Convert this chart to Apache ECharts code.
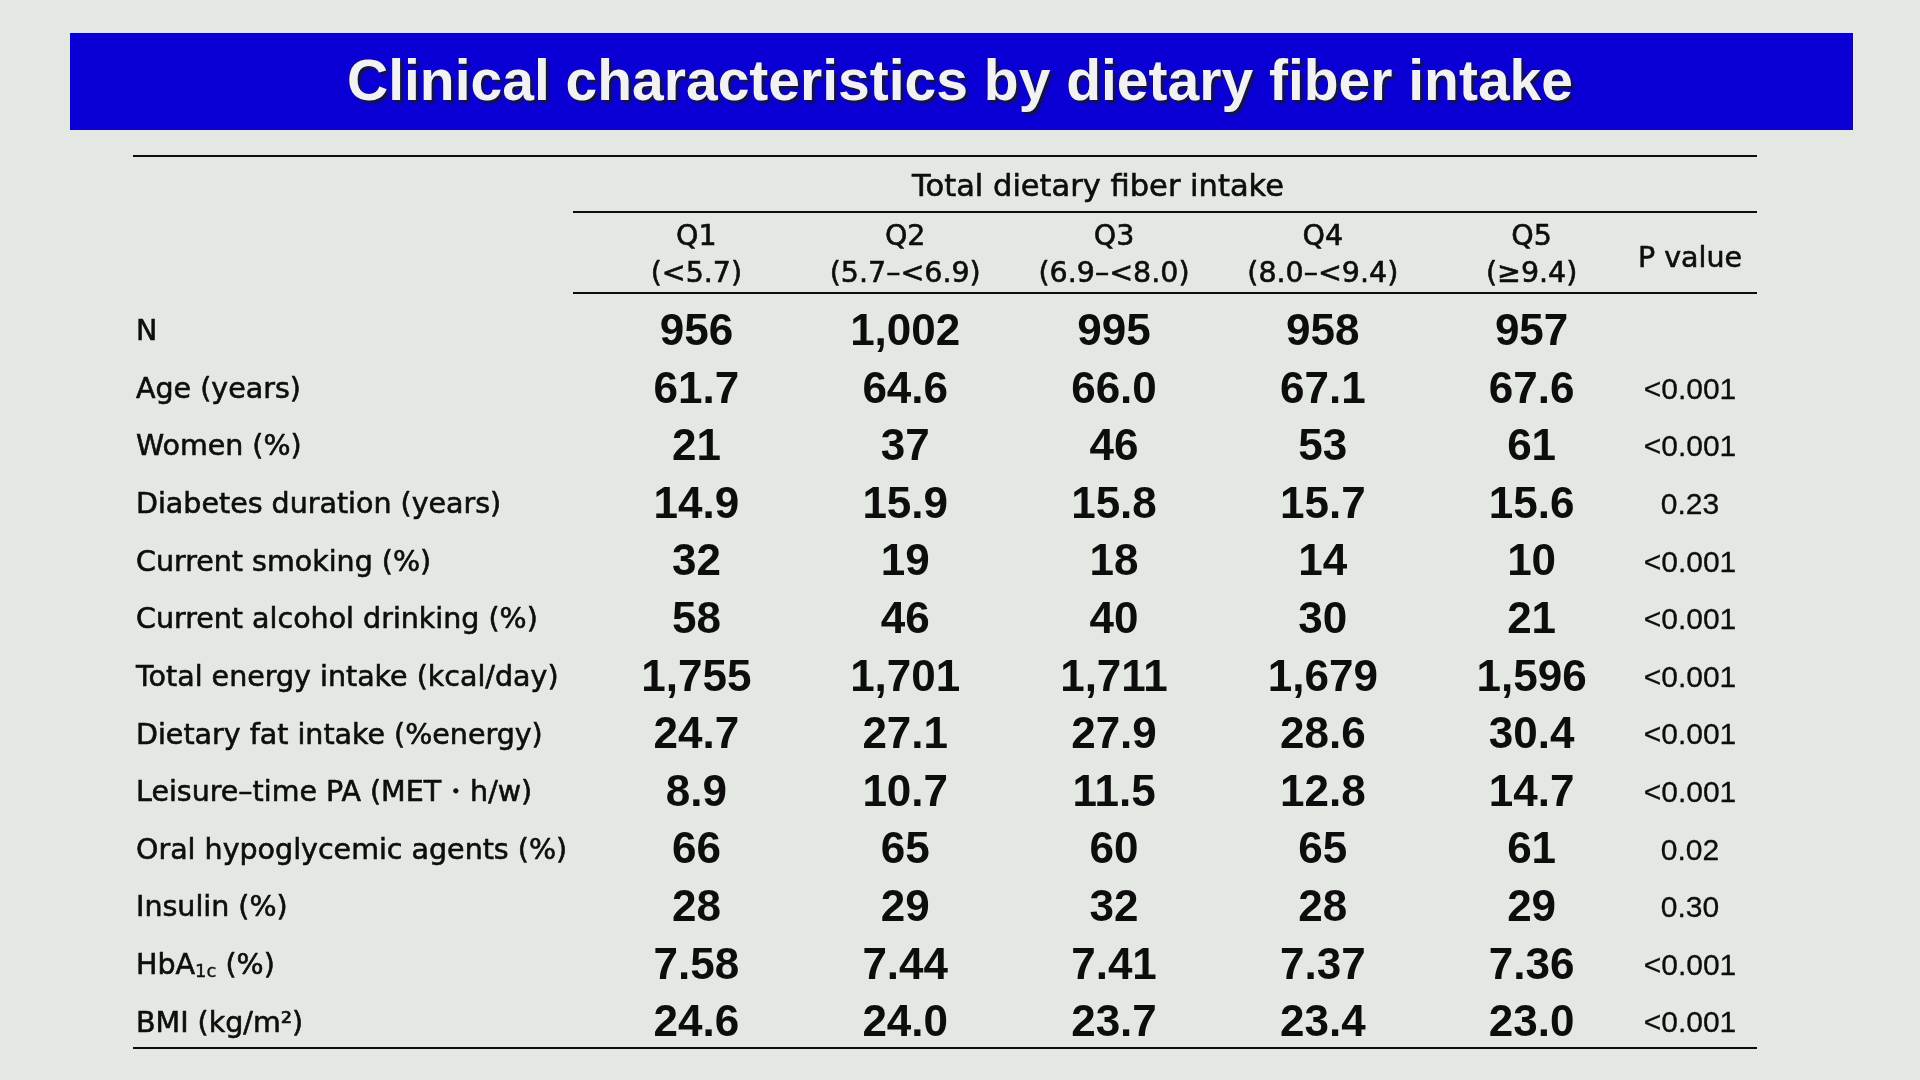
<!DOCTYPE html>
<html>
<head>
<meta charset="utf-8">
<script src="https://cdn.jsdelivr.net/npm/echarts@6/dist/echarts.min.js"></script>
<style>
html,body{margin:0;padding:0;background:#e3e8e3;}
#chart{width:1920px;height:1080px;}
</style>
</head>
<body>
<div id="chart"></div>
<script>
// ---- data ----
var titleText = 'Clinical characteristics by dietary fiber intake';
var groupHeader = 'Total dietary fiber intake';
var quintiles = ['Q1', 'Q2', 'Q3', 'Q4', 'Q5'];
var quintileRanges = ['(<5.7)', '(5.7\u2013<6.9)', '(6.9\u2013<8.0)', '(8.0\u2013<9.4)', '(\u22659.4)'];
var pHeader = 'P value';
var rows = ['N', 'Age (years)', 'Women (%)', 'Diabetes duration (years)', 'Current smoking (%)',
  'Current alcohol drinking (%)', 'Total energy intake (kcal/day)', 'Dietary fat intake (%energy)',
  'Leisure\u2013time PA (MET\u30fbh/w)', 'Oral hypoglycemic agents (%)', 'Insulin (%)', 'HbA1c (%)', 'BMI (kg/m\u00b2)'];
var decimals = [0, 1, 0, 1, 0, 0, 0, 1, 1, 0, 0, 2, 1];
var q1 = [956, 61.7, 21, 14.9, 32, 58, 1755, 24.7, 8.9, 66, 28, 7.58, 24.6];
var q2 = [1002, 64.6, 37, 15.9, 19, 46, 1701, 27.1, 10.7, 65, 29, 7.44, 24.0];
var q3 = [995, 66.0, 46, 15.8, 18, 40, 1711, 27.9, 11.5, 60, 32, 7.41, 23.7];
var q4 = [958, 67.1, 53, 15.7, 14, 30, 1679, 28.6, 12.8, 65, 28, 7.37, 23.4];
var q5 = [957, 67.6, 61, 15.6, 10, 21, 1596, 30.4, 14.7, 61, 29, 7.36, 23.0];
var pValues = ['', '<0.001', '<0.001', '0.23', '<0.001', '<0.001', '<0.001', '<0.001', '<0.001', '0.02', '0.30', '<0.001', '<0.001'];

// ---- styles ----
var labelFont = '"DejaVu Sans", "Noto Sans", sans-serif';
var valueFont = '"Liberation Sans", Arial, sans-serif';
var ink = '#0d0d0d';
var labelSize = 28.5;
var thicken = {textBorderColor: ink, textBorderWidth: 0.6};

function fmt(v, d) {
  return v.toLocaleString('en-US', {minimumFractionDigits: d, maximumFractionDigits: d});
}

var qValues = [q1, q2, q3, q4, q5];
var series = qValues.map(function (arr, ci) {
  return {
    type: 'scatter',
    xAxisIndex: 0, yAxisIndex: 0,
    symbolSize: 0,
    silent: true,
    itemStyle: {opacity: 1},
    label: {
      show: true, position: 'inside', opacity: 1,
      formatter: function (p) { return p.data[2]; },
      fontFamily: valueFont, fontSize: 44, fontWeight: 'bold', color: ink
    },
    data: rows.map(function (r, ri) { return [quintiles[ci], r, fmt(arr[ri], decimals[ri])]; })
  };
});
series.push({
  type: 'scatter',
  xAxisIndex: 1, yAxisIndex: 1,
  symbolSize: 0,
  silent: true,
  itemStyle: {opacity: 1},
  label: Object.assign({
    show: true, position: 'inside', opacity: 1,
    formatter: function (p) { return p.data[2]; },
    fontFamily: valueFont, fontSize: 30, color: ink
  }, {textBorderColor: ink, textBorderWidth: 0.3}),
  data: rows.map(function (r, ri) { return [pHeader, r, pValues[ri]]; })
});

var gridTop = 304, gridBottom = 27;
var qLeft = 592, qRight = 1920 - 1636;

var option = {
  backgroundColor: '#e3e8e3',
  animation: false,
  title: {
    text: titleText,
    left: 'center', top: 51,
    textStyle: {
      color: '#f2f2f2', fontSize: 57, fontWeight: 'bold',
      fontFamily: valueFont,
      textShadowColor: '#15153a', textShadowOffsetX: 3, textShadowOffsetY: 3, textShadowBlur: 2
    }
  },
  grid: [
    {left: qLeft, right: qRight, top: gridTop, bottom: gridBottom},
    {left: 1640, right: 1920 - 1740, top: gridTop, bottom: gridBottom}
  ],
  xAxis: [
    {
      type: 'category', gridIndex: 0, position: 'top', data: quintiles,
      axisLine: {show: false}, axisTick: {show: false}, splitLine: {show: false},
      axisLabel: Object.assign({
        margin: 11, interval: 0,
        formatter: function (v, i) { return v + '\n' + quintileRanges[i]; },
        fontFamily: labelFont, fontSize: labelSize, lineHeight: 37, color: ink
      }, thicken)
    },
    {
      type: 'category', gridIndex: 1, position: 'top', data: [pHeader],
      axisLine: {show: false}, axisTick: {show: false}, splitLine: {show: false},
      axisLabel: Object.assign({margin: 30, fontFamily: labelFont, fontSize: labelSize, color: ink}, thicken)
    }
  ],
  yAxis: [
    {
      type: 'category', gridIndex: 0, inverse: true, data: rows,
      axisLine: {show: false}, axisTick: {show: false}, splitLine: {show: false},
      axisLabel: Object.assign({
        margin: qLeft - 136, align: 'left', interval: 0,
        fontFamily: labelFont, fontSize: labelSize, color: ink,
        formatter: function (v) {
          if (v.indexOf('HbA1c') === 0) return 'HbA{sub|1c}' + v.slice(5);
          return v;
        },
        rich: {sub: {fontFamily: labelFont, fontSize: 18, color: ink, textBorderColor: ink, textBorderWidth: 0.4, padding: [12, 0, 0, 0]}}
      }, thicken)
    },
    {
      type: 'category', gridIndex: 1, inverse: true, data: rows,
      axisLine: {show: false}, axisTick: {show: false}, splitLine: {show: false},
      axisLabel: {show: false}
    }
  ],
  graphic: [
    {type: 'rect', z: -1, shape: {x: 70, y: 33, width: 1783, height: 97}, style: {fill: '#0a00d6'}},
    {type: 'line', shape: {x1: 133, y1: 156, x2: 1757, y2: 156}, style: {stroke: ink, lineWidth: 2}},
    {type: 'text', x: 1098, y: 188, style: {text: groupHeader, align: 'center', verticalAlign: 'middle',
      font: '30.5px ' + labelFont, fill: ink, stroke: ink, lineWidth: 0.6}},
    {type: 'line', shape: {x1: 573, y1: 212, x2: 1757, y2: 212}, style: {stroke: ink, lineWidth: 2}},
    {type: 'line', shape: {x1: 573, y1: 293, x2: 1757, y2: 293}, style: {stroke: ink, lineWidth: 2}},
    {type: 'line', shape: {x1: 133, y1: 1048, x2: 1757, y2: 1048}, style: {stroke: ink, lineWidth: 2}}
  ],
  series: series
};

var chart = echarts.init(document.getElementById('chart'));
chart.setOption(option);
</script>
</body>
</html>
